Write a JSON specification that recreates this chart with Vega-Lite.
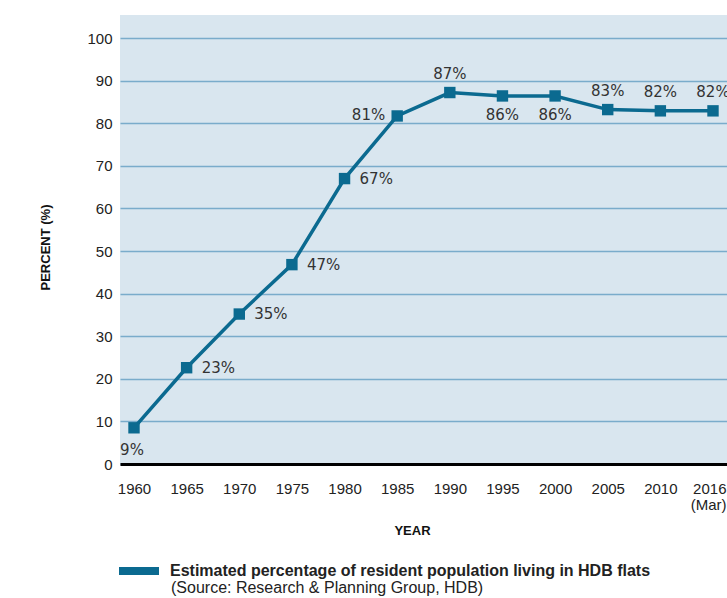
{
  "$schema": "https://vega.github.io/schema/vega-lite/v6.json",
  "width": 607,
  "height": 449,
  "autosize": {"type": "none"},
  "padding": {"left": 120, "top": 15, "right": 0, "bottom": 134},
  "background": "white",
  "config": {
    "view": {"fill": "#d9e6ef", "stroke": null},
    "font": "Liberation Sans"
  },
  "title": {
    "text": "(Source: Research & Planning Group, HDB)",
    "orient": "bottom",
    "anchor": "start",
    "frame": "group",
    "dx": 51,
    "offset": -7,
    "fontSize": 16,
    "fontWeight": "normal",
    "color": "#222222",
    "font": "Liberation Sans"
  },
  "data": {
    "values": [
      {"year": "1960", "percent": 8.5, "label": "9%"},
      {"year": "1965", "percent": 22.6, "label": "23%"},
      {"year": "1970", "percent": 35.2, "label": "35%"},
      {"year": "1975", "percent": 46.8, "label": "47%"},
      {"year": "1980", "percent": 67.0, "label": "67%"},
      {"year": "1985", "percent": 81.7, "label": "81%"},
      {"year": "1990", "percent": 87.2, "label": "87%"},
      {"year": "1995", "percent": 86.4, "label": "86%"},
      {"year": "2000", "percent": 86.4, "label": "86%"},
      {"year": "2005", "percent": 83.2, "label": "83%"},
      {"year": "2010", "percent": 82.9, "label": "82%"},
      {"year": "2016", "percent": 82.9, "label": "82%"}
    ]
  },
  "encoding": {
    "x": {
      "field": "year",
      "type": "ordinal",
      "sort": null,
      "scale": {"type": "point", "padding": 0.266},
      "axis": {
        "title": "YEAR",
        "titleFontSize": 13,
        "titleFontWeight": "bold",
        "titleColor": "#111111",
        "titlePadding": 12,
        "titleX": 292,
        "labelAngle": 0,
        "labelFontSize": 15,
        "labelColor": "#222222",
        "labelPadding": 17,
        "labelBaseline": "top",
        "labelAlign": {"condition": {"test": "datum.value == '2016'", "value": "right"}, "value": "center"},
        "labelOffset": {"condition": {"test": "datum.value == '2016'", "value": 13}, "value": 0},
        "labelExpr": "datum.value == '2016' ? ['2016', '(Mar)'] : datum.label",
        "labelLineHeight": 16,
        "ticks": false,
        "domainColor": "#000000",
        "domainWidth": 3,
        "grid": false
      }
    },
    "y": {
      "field": "percent",
      "type": "quantitative",
      "scale": {"domain": [0, 105.4], "nice": false},
      "axis": {
        "title": "PERCENT (%)",
        "titleFontSize": 13,
        "titleFontWeight": "bold",
        "titleColor": "#111111",
        "titlePadding": 34,
        "titleY": 232,
        "values": [0, 10, 20, 30, 40, 50, 60, 70, 80, 90, 100],
        "labelFontSize": 15,
        "labelColor": "#222222",
        "labelPadding": 8,
        "ticks": false,
        "domain": false,
        "grid": true,
        "gridColor": "#7aaccb",
        "gridWidth": 1.5
      }
    }
  },
  "layer": [
    {
      "mark": {"type": "line", "strokeWidth": 3.5},
      "encoding": {
        "color": {
          "datum": "Estimated percentage of resident population living in HDB flats",
          "scale": {"range": ["#0b6a90"]},
          "legend": {
            "orient": "none",
            "legendX": -5,
            "legendY": 532,
            "title": null,
            "symbolType": "stroke",
            "symbolSize": 1600,
            "symbolStrokeWidth": 8,
            "labelFontSize": 16,
            "labelFontWeight": "bold",
            "labelFont": "Liberation Sans",
            "labelColor": "#222222",
            "labelLimit": 0,
            "labelOffset": 7
          }
        }
      }
    },
    {
      "mark": {"type": "point", "shape": "square", "filled": true, "size": 130, "color": "#0b6a90", "opacity": 1}
    },
    {
      "transform": [{"filter": "datum.year == '1960'"}],
      "mark": {"type": "text", "font": "DejaVu Sans", "fontSize": 15, "color": "#333333", "dy": 22, "dx": -2},
      "encoding": {"text": {"field": "label"}}
    },
    {
      "transform": [{"filter": "datum.year == '1965' || datum.year == '1970' || datum.year == '1975' || datum.year == '1980'"}],
      "mark": {"type": "text", "font": "DejaVu Sans", "fontSize": 15, "color": "#333333", "align": "left", "dx": 15, "dy": 0},
      "encoding": {"text": {"field": "label"}}
    },
    {
      "transform": [{"filter": "datum.year == '1985'"}],
      "mark": {"type": "text", "font": "DejaVu Sans", "fontSize": 15, "color": "#333333", "align": "right", "dx": -12, "dy": -1},
      "encoding": {"text": {"field": "label"}}
    },
    {
      "transform": [{"filter": "datum.year == '1990' || datum.year == '2005' || datum.year == '2010' || datum.year == '2016'"}],
      "mark": {"type": "text", "font": "DejaVu Sans", "fontSize": 15, "color": "#333333", "dy": -19},
      "encoding": {"text": {"field": "label"}}
    },
    {
      "transform": [{"filter": "datum.year == '1995' || datum.year == '2000'"}],
      "mark": {"type": "text", "font": "DejaVu Sans", "fontSize": 15, "color": "#333333", "dy": 19},
      "encoding": {"text": {"field": "label"}}
    }
  ]
}
